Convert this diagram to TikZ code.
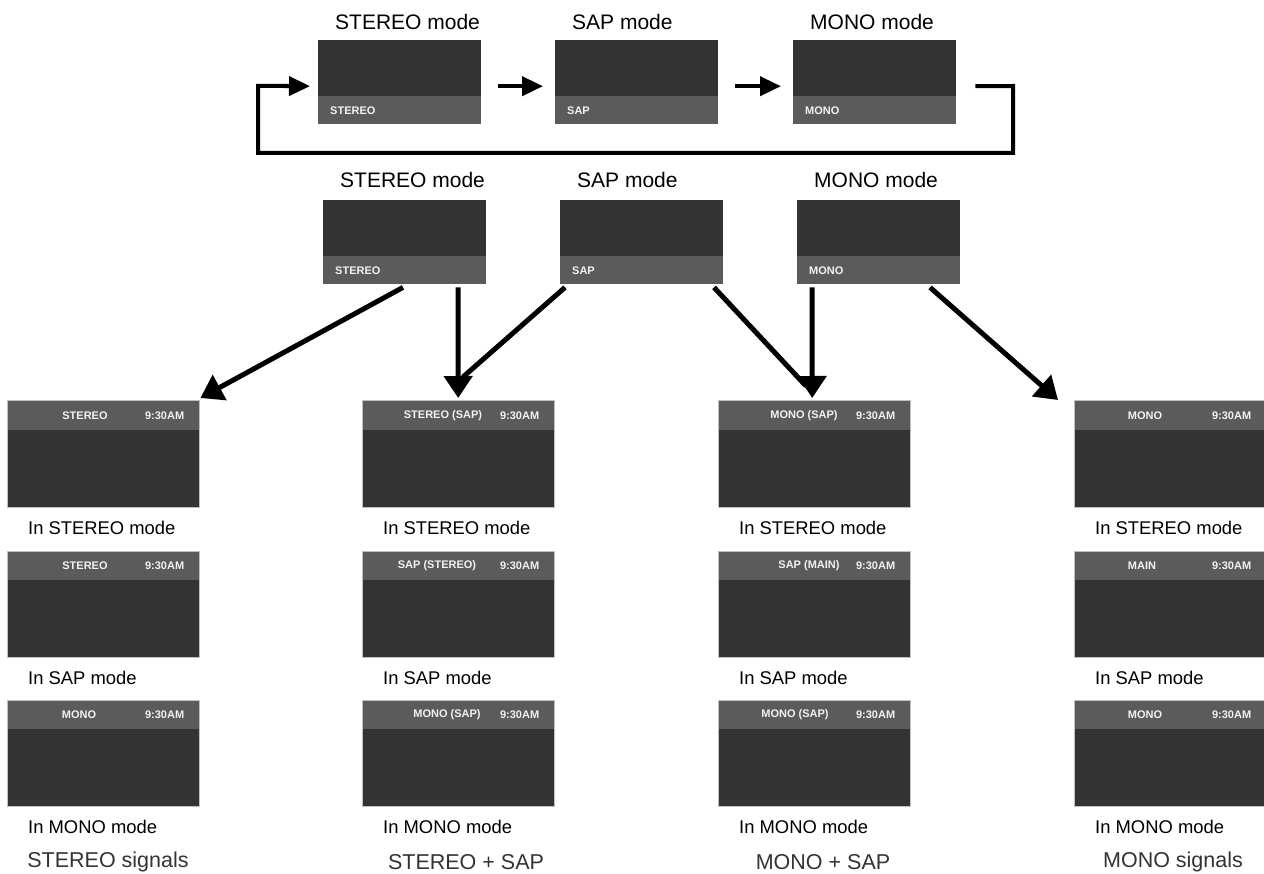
\documentclass[tikz,border=0pt]{standalone}
\usepackage{fontspec}
\setmainfont{Liberation Sans}
\usetikzlibrary{arrows.meta,calc}
\definecolor{scr}{HTML}{333333}
\definecolor{barc}{HTML}{5B5B5B}
\definecolor{frm}{HTML}{C0C0C0}
\definecolor{bartext}{HTML}{F2F2F2}
\tikzset{
  screen/.style={fill=scr, draw=none, minimum width=163pt, minimum height=84pt, anchor=north west, inner sep=0pt},
  gridbox/.style={fill=scr, draw=none, minimum width=192pt, minimum height=106pt, anchor=north west, inner sep=0pt},
  bartxt/.style={text=bartext, font=\fontsize{11}{13}\selectfont\bfseries, inner sep=0pt},
  ttl/.style={font=\fontsize{21}{24}\selectfont, inner sep=0pt, anchor=west},
  lbl/.style={font=\fontsize{18.4}{22}\selectfont, inner sep=0pt, anchor=west},
  grp/.style={font=\fontsize{21.5}{24}\selectfont, text=black!80, inner sep=0pt},
  big/.style={line width=5pt, -{Triangle[length=22pt,width=28pt]}},
  bigline/.style={line width=5pt},
  small/.style={line width=4pt, -{Triangle[length=21pt,width=19pt]}},
  loopline/.style={line width=4pt}
}
\begin{document}
\begin{tikzpicture}[x=1pt,y=-1pt]
\useasboundingbox (0,0) rectangle (1264,874);
\clip (0,0) rectangle (1264,874);
% ---- top row ----
\foreach \n/\x/\t in {t1/318/STEREO,t2/555/SAP,t3/793/MONO}{
  \node[screen] (\n) at (\x,40) {};
  \fill[barc] (\n.south west) rectangle ($(\n.south east)+(0,-28)$);
  \node[bartxt, anchor=west] at ($(\n.south west)+(12,-14)$) {\t};
  \node[ttl] at ($(\n.north west)+(17,-18)$) {\t\ mode};
}
% arrows top row
\coordinate (l1) at ($(t3.east)+(19,4)$);
\coordinate (l2) at (1013,86);
\coordinate (l3) at (1013,153);
\coordinate (l4) at (258,153);
\coordinate (l5) at (258,86);
\draw[loopline, line join=miter] (l1) -- (l2) -- (l3) -- (l4) -- (l5) -- ($(l5)+(30,0)$);
\draw[small] ($(l5)+(25,0)$) -- ($(t1.west)+(-8,4)$);
\draw[small] ($(t1.east)+(17,4)$) -- ($(t2.west)+(-12,4)$);
\draw[small] ($(t2.east)+(17,4)$) -- ($(t3.west)+(-12,4)$);
% ---- middle row ----
\foreach \n/\x/\t in {m1/323/STEREO,m2/560/SAP,m3/797/MONO}{
  \node[screen] (\n) at (\x,200) {};
  \fill[barc] (\n.south west) rectangle ($(\n.south east)+(0,-28)$);
  \node[bartxt, anchor=west] at ($(\n.south west)+(12,-14)$) {\t};
  \node[ttl] at ($(\n.north west)+(17,-20)$) {\t\ mode};
}
% ---- bottom grid ----
\foreach \c/\x in {1/7,2/362,3/718,4/1074}{
  \foreach \r/\y/\m in {1/401/STEREO,2/551/SAP,3/700/MONO}{
    \node[gridbox] (b\c\r) at (\x,\y) {};
    \fill[barc] (b\c\r.north west) rectangle ($(b\c\r.north east)+(0,29)$);
    \draw[frm, line width=1pt] (b\c\r.north west) rectangle (b\c\r.south east);
    \node[bartxt, anchor=east] at ($(b\c\r.north east)+(-15,14.5)$) {9:30AM};
    \node[lbl] at ($(b\c\r.south west)+(21,21)$) {In \m\ mode};
  }
}
% header labels
\foreach \cy/\cx/\t in {415.5/85/STEREO,565.5/85/STEREO,714.5/79/MONO,
  415.5/443/STEREO (SAP),565.5/437/SAP (STEREO),714.5/447/MONO (SAP),
  415.5/804/MONO (SAP),565.5/809/SAP (MAIN),714.5/795/MONO (SAP),
  415.5/1145/MONO,565.5/1142/MAIN,714.5/1145/MONO}{
  \node[bartxt] at (\cx,\cy) {\t};
}
% group titles
\node[grp] (g1) at (108,862) {STEREO signals};
\node[grp] (g2) at (466,862) {STEREO + SAP};
\node[grp] (g3) at (823,862) {MONO + SAP};
\node[grp] (g4) at (1173,862) {MONO signals};
% ---- connectors ----
\coordinate (m1a) at ($(m1.south west)+(80,3)$);
\coordinate (m1b) at ($(m1.south west)+(135,3)$);
\coordinate (m2a) at ($(m2.south west)+(5,3)$);
\coordinate (m2b) at ($(m2.south west)+(154,3)$);
\coordinate (m3a) at ($(m3.south west)+(15,3)$);
\coordinate (m3b) at ($(m3.south west)+(133,3)$);
\draw[big] (m1a) -- ($(b11.north east)+(1,-3)$);
\draw[big] (m1b) -- ($(b21.north)+(0,-3)$);
\draw[bigline] (m2a) -- (463,377);
\draw[bigline] (m2b) -- (806,386);
\draw[big] (m3a) -- ($(b31.north)+(-2,-3)$);
\draw[big] (m3b) -- ($(b41.north west)+(-16,-1)$);
\end{tikzpicture}
\end{document}
